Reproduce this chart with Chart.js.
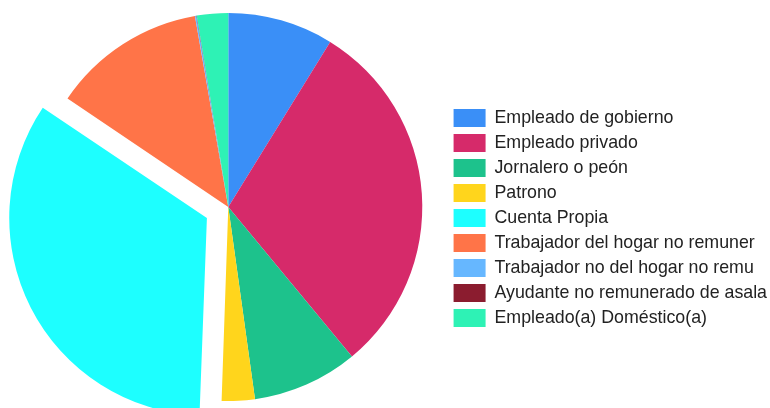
<!DOCTYPE html>
<html>
<head>
<meta charset="utf-8">
<script src="https://cdn.jsdelivr.net/npm/chart.js@4.4.1/dist/chart.umd.min.js"></script>
<style>
  html, body { margin: 0; padding: 0; background: #ffffff; overflow: hidden; width: 770px; height: 408px; }
  #wrap { width: 774px; height: 408px; position: relative; }
</style>
</head>
<body>
<div id="wrap"><canvas id="c"></canvas></div>
<script>
const categories = [
  "Empleado de gobierno",
  "Empleado privado",
  "Jornalero o peón",
  "Patrono",
  "Cuenta Propia",
  "Trabajador del hogar no remuner",
  "Trabajador no del hogar no remu",
  "Ayudante no remunerado de asala",
  "Empleado(a) Doméstico(a)"
];
const values = [8.8, 30.2, 8.8, 2.75, 33.9, 12.8, 0.12, 0.03, 2.6];
const colors = ["#3A8FF7", "#D62A6A", "#1DC28C", "#FFD51C", "#1DFFFF", "#FF7448", "#66B7FF", "#8B1C2F", "#2EF2B5"];
const offsets = [0, 0, 0, 0, 96, 0, 0, 0, 0];

new Chart(document.getElementById('c'), {
  type: 'pie',
  data: {
    labels: categories,
    datasets: [{
      data: values,
      backgroundColor: colors,
      borderWidth: 0,
      offset: offsets
    }]
  },
  options: {
    responsive: true,
    maintainAspectRatio: false,
    animation: false,
    radius: 194,
    layout: { padding: { left: 10, top: 6, right: -3, bottom: 0 } },
    plugins: {
      tooltip: { enabled: false },
      legend: {
        position: 'right',
        title: { display: true, text: ' ', font: { size: 10, lineHeight: 2.2 } },
        labels: {
          boxWidth: 32,
          boxHeight: 18,
          padding: 7,
          color: '#222222',
          font: { family: "'Liberation Sans', Arial, sans-serif", size: 17.8 }
        }
      }
    }
  }
});
</script>
</body>
</html>
